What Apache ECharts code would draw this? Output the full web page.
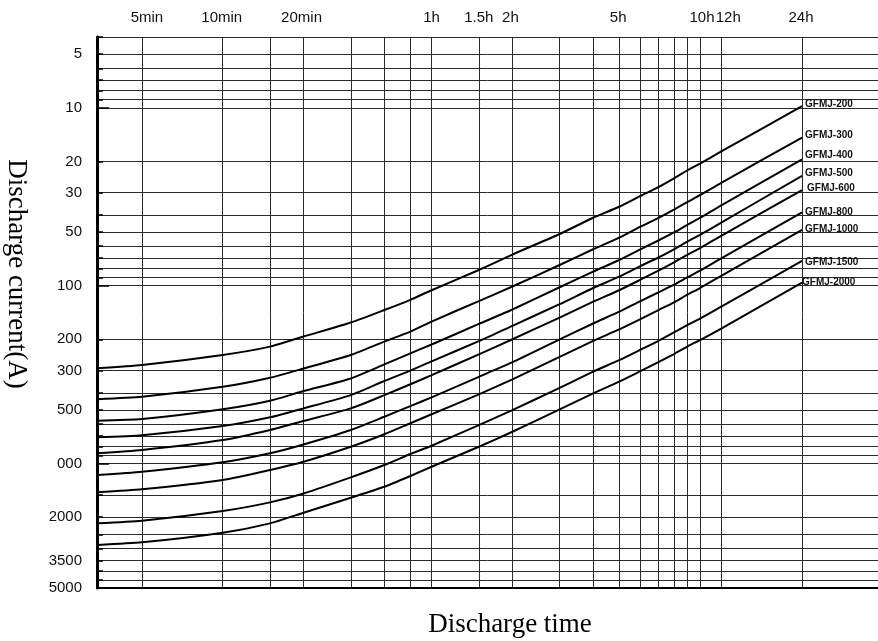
<!DOCTYPE html>
<html><head><meta charset="utf-8">
<script src="https://cdn.jsdelivr.net/npm/echarts@6/dist/echarts.min.js"></script>
<style>html,body{margin:0;padding:0;background:#fff}#c{width:878px;height:641px}</style>
</head><body><div id="c"></div>
<script>
// Discharge time in minutes (x), discharge current in A (y)
const times = [3.4, 5, 10, 15, 20, 30, 40, 50, 60, 90, 120, 180, 240, 300, 360, 420, 480, 540, 600, 720, 1440];

const GFMJ_200  = [291, 279, 245, 220, 193, 161, 137, 120, 106, 81.6, 66.8, 51.2, 41.5, 36.0, 31.3, 27.9, 24.9, 22.4, 20.6, 17.6, 9.8];
const GFMJ_300  = [434, 421, 370, 329, 292, 245, 206, 181, 159, 122, 101, 76.5, 62.4, 53.7, 46.6, 41.6, 37.3, 33.8, 31.0, 26.4, 14.7];
const GFMJ_400  = [574, 562, 495, 443, 391, 332, 277, 240, 214, 164, 136, 102, 83.4, 71.7, 62.4, 55.7, 50.2, 45.3, 41.6, 35.4, 19.5];
const GFMJ_500  = [711, 693, 615, 549, 489, 412, 343, 300, 266, 205, 168, 127, 103, 89.0, 77.5, 69.4, 62.4, 56.4, 51.8, 44.2, 24.1];
const GFMJ_600  = [875, 838, 737, 647, 576, 489, 412, 358, 318, 243, 200, 151, 123, 106, 92.5, 82.3, 73.9, 66.8, 61.4, 52.4, 29.0];
const GFMJ_800  = [1159, 1111, 983, 875, 780, 647, 545, 475, 424, 325, 269, 200, 163, 140, 122, 109, 98.6, 89.4, 82.3, 70.1, 38.7];
const GFMJ_1000 = [1450, 1395, 1237, 1086, 976, 804, 684, 593, 528, 408, 336, 251, 204, 176, 154, 137, 124, 112, 103, 88.0, 48.6];
const GFMJ_1500 = [2166, 2094, 1847, 1651, 1471, 1194, 1018, 883, 793, 607, 500, 375, 304, 262, 229, 204, 183, 166, 153, 131, 72.6];
const GFMJ_2000 = [2868, 2770, 2446, 2166, 1888, 1555, 1349, 1174, 1041, 804, 662, 496, 403, 346, 302, 269, 242, 219, 202, 174, 96.2];

const seriesNames = ['GFMJ-200','GFMJ-300','GFMJ-400','GFMJ-500','GFMJ-600','GFMJ-800','GFMJ-1000','GFMJ-1500','GFMJ-2000'];
const seriesValues = [GFMJ_200, GFMJ_300, GFMJ_400, GFMJ_500, GFMJ_600, GFMJ_800, GFMJ_1000, GFMJ_1500, GFMJ_2000];

// grid lines
const timeGrid = [5, 10, 15, 20, 30, 40, 50, 60, 90, 120, 180, 240, 300, 360, 420, 480, 540, 600, 720, 1440];
const currentGrid = [4, 5, 6, 7, 8, 9, 10, 20, 30, 40, 50, 60, 70, 80, 90, 100, 200, 300, 400, 500, 600, 700, 800, 900, 1000, 1500, 2000, 2500, 3000, 3500, 4000, 4500, 5000];
const currentLongTicks = [10, 100, 1000];

// tick labels
const timeTickValues = [5, 10, 20, 60, 90, 120, 300, 600, 720, 1440];
const timeTickLabels = ['5min', '10min', '20min', '1h', '1.5h', '2h', '5h', '10h', '12h', '24h'];
const currentTickValues = [5, 10, 20, 30, 50, 100, 200, 300, 500, 1000, 2000, 3500, 5000];
const currentTickLabels = ['5', '10', '20', '30', '50', '100', '200', '300', '500', '000', '2000', '3500', '5000'];

const xMin = 3.4, xMax = 2763, yMin = 4, yMax = 5000;

// style-only nudges (pixels)
const timeLabelShift = [5, -1, -2, 0, 0, -2, -1, 2, 7, -1];
const endLabelOffsets = [[0,-2],[0,-2],[0,-4],[0,-3],[2,-2],[0,0],[0,-1],[0,1],[-3,0]];

const labelFont = {fontFamily: 'Liberation Sans', fontSize: 15, color: '#111'};
const timeRich = {};
timeLabelShift.forEach((s, i) => {
  timeRich['s' + i] = Object.assign({
    padding: s > 0 ? [0, 0, 0, 2 * s] : [0, -2 * s, 0, 0]
  }, labelFont);
});

function indexOf(vals, v) {
  for (let i = 0; i < vals.length; i++) {
    if (Math.abs(vals[i] - v) / vals[i] < 1e-6) return i;
  }
  return -1;
}

const chart = echarts.init(document.getElementById('c'), null, {renderer: 'canvas'});
const gridColor = '#2a2a2a';
const option = {
  animation: false,
  backgroundColor: '#fff',
  grid: {left: 97, right: 0, top: 37, bottom: 53},
  xAxis: [
    {
      type: 'log', min: xMin, max: xMax, position: 'bottom',
      axisLine: {show: true, onZero: false, lineStyle: {color: '#000', width: 2}},
      axisTick: {show: false, customValues: timeGrid},
      axisLabel: {show: false},
      splitLine: {show: true, lineStyle: {color: gridColor, width: 1}}
    },
    {
      type: 'log', min: xMin, max: xMax, position: 'top',
      axisLine: {show: false},
      axisTick: {show: false},
      splitLine: {show: false},
      axisLabel: Object.assign({
        show: true, customValues: timeTickValues, margin: 12,
        formatter: function (v) {
          const i = indexOf(timeTickValues, v);
          return i < 0 ? '' : '{s' + i + '|' + timeTickLabels[i] + '}';
        },
        rich: timeRich
      }, labelFont)
    }
  ],
  yAxis: [
    {
      type: 'log', min: yMin, max: yMax, inverse: true, position: 'left',
      axisLine: {show: true, onZero: false, lineStyle: {color: '#000', width: 3}},
      axisTick: {show: true, inside: true, length: 6, customValues: currentGrid, lineStyle: {color: '#000', width: 1.5}},
      axisLabel: Object.assign({
        show: true, customValues: currentTickValues, margin: 15,
        formatter: function (v) {
          const i = indexOf(currentTickValues, v);
          return i < 0 ? '' : currentTickLabels[i];
        }
      }, labelFont),
      splitLine: {show: true, lineStyle: {color: gridColor, width: 1}}
    },
    {
      type: 'log', min: yMin, max: yMax, inverse: true, position: 'left',
      axisLine: {show: false},
      axisTick: {show: true, inside: true, length: 12, customValues: currentLongTicks, lineStyle: {color: '#000', width: 1.5}},
      axisLabel: {show: false},
      splitLine: {show: false}
    }
  ],
  graphic: [
    {type: 'text', x: 16, y: 274, rotation: -Math.PI / 2,
     style: {text: 'Discharge current(A)', font: '27px "Liberation Serif"', fill: '#000', textAlign: 'center', textVerticalAlign: 'middle'}},
    {type: 'text', x: 510, y: 625,
     style: {text: 'Discharge time', font: '27px "Liberation Serif"', fill: '#000', textAlign: 'center', textVerticalAlign: 'middle'}}
  ],
  series: seriesNames.map((name, i) => ({
    name: name,
    type: 'line',
    xAxisIndex: 0, yAxisIndex: 0,
    data: times.map((t, j) => [t, seriesValues[i][j]]),
    showSymbol: false, symbol: 'none',
    smooth: 0.2,
    lineStyle: {color: '#000', width: 2},
    z: 5,
    endLabel: {
      show: true, formatter: '{a}', distance: 3, offset: endLabelOffsets[i],
      fontFamily: 'Liberation Sans', fontSize: 10, fontWeight: 'bold', color: '#111'
    }
  }))
};
chart.setOption(option);
</script>
</body></html>
